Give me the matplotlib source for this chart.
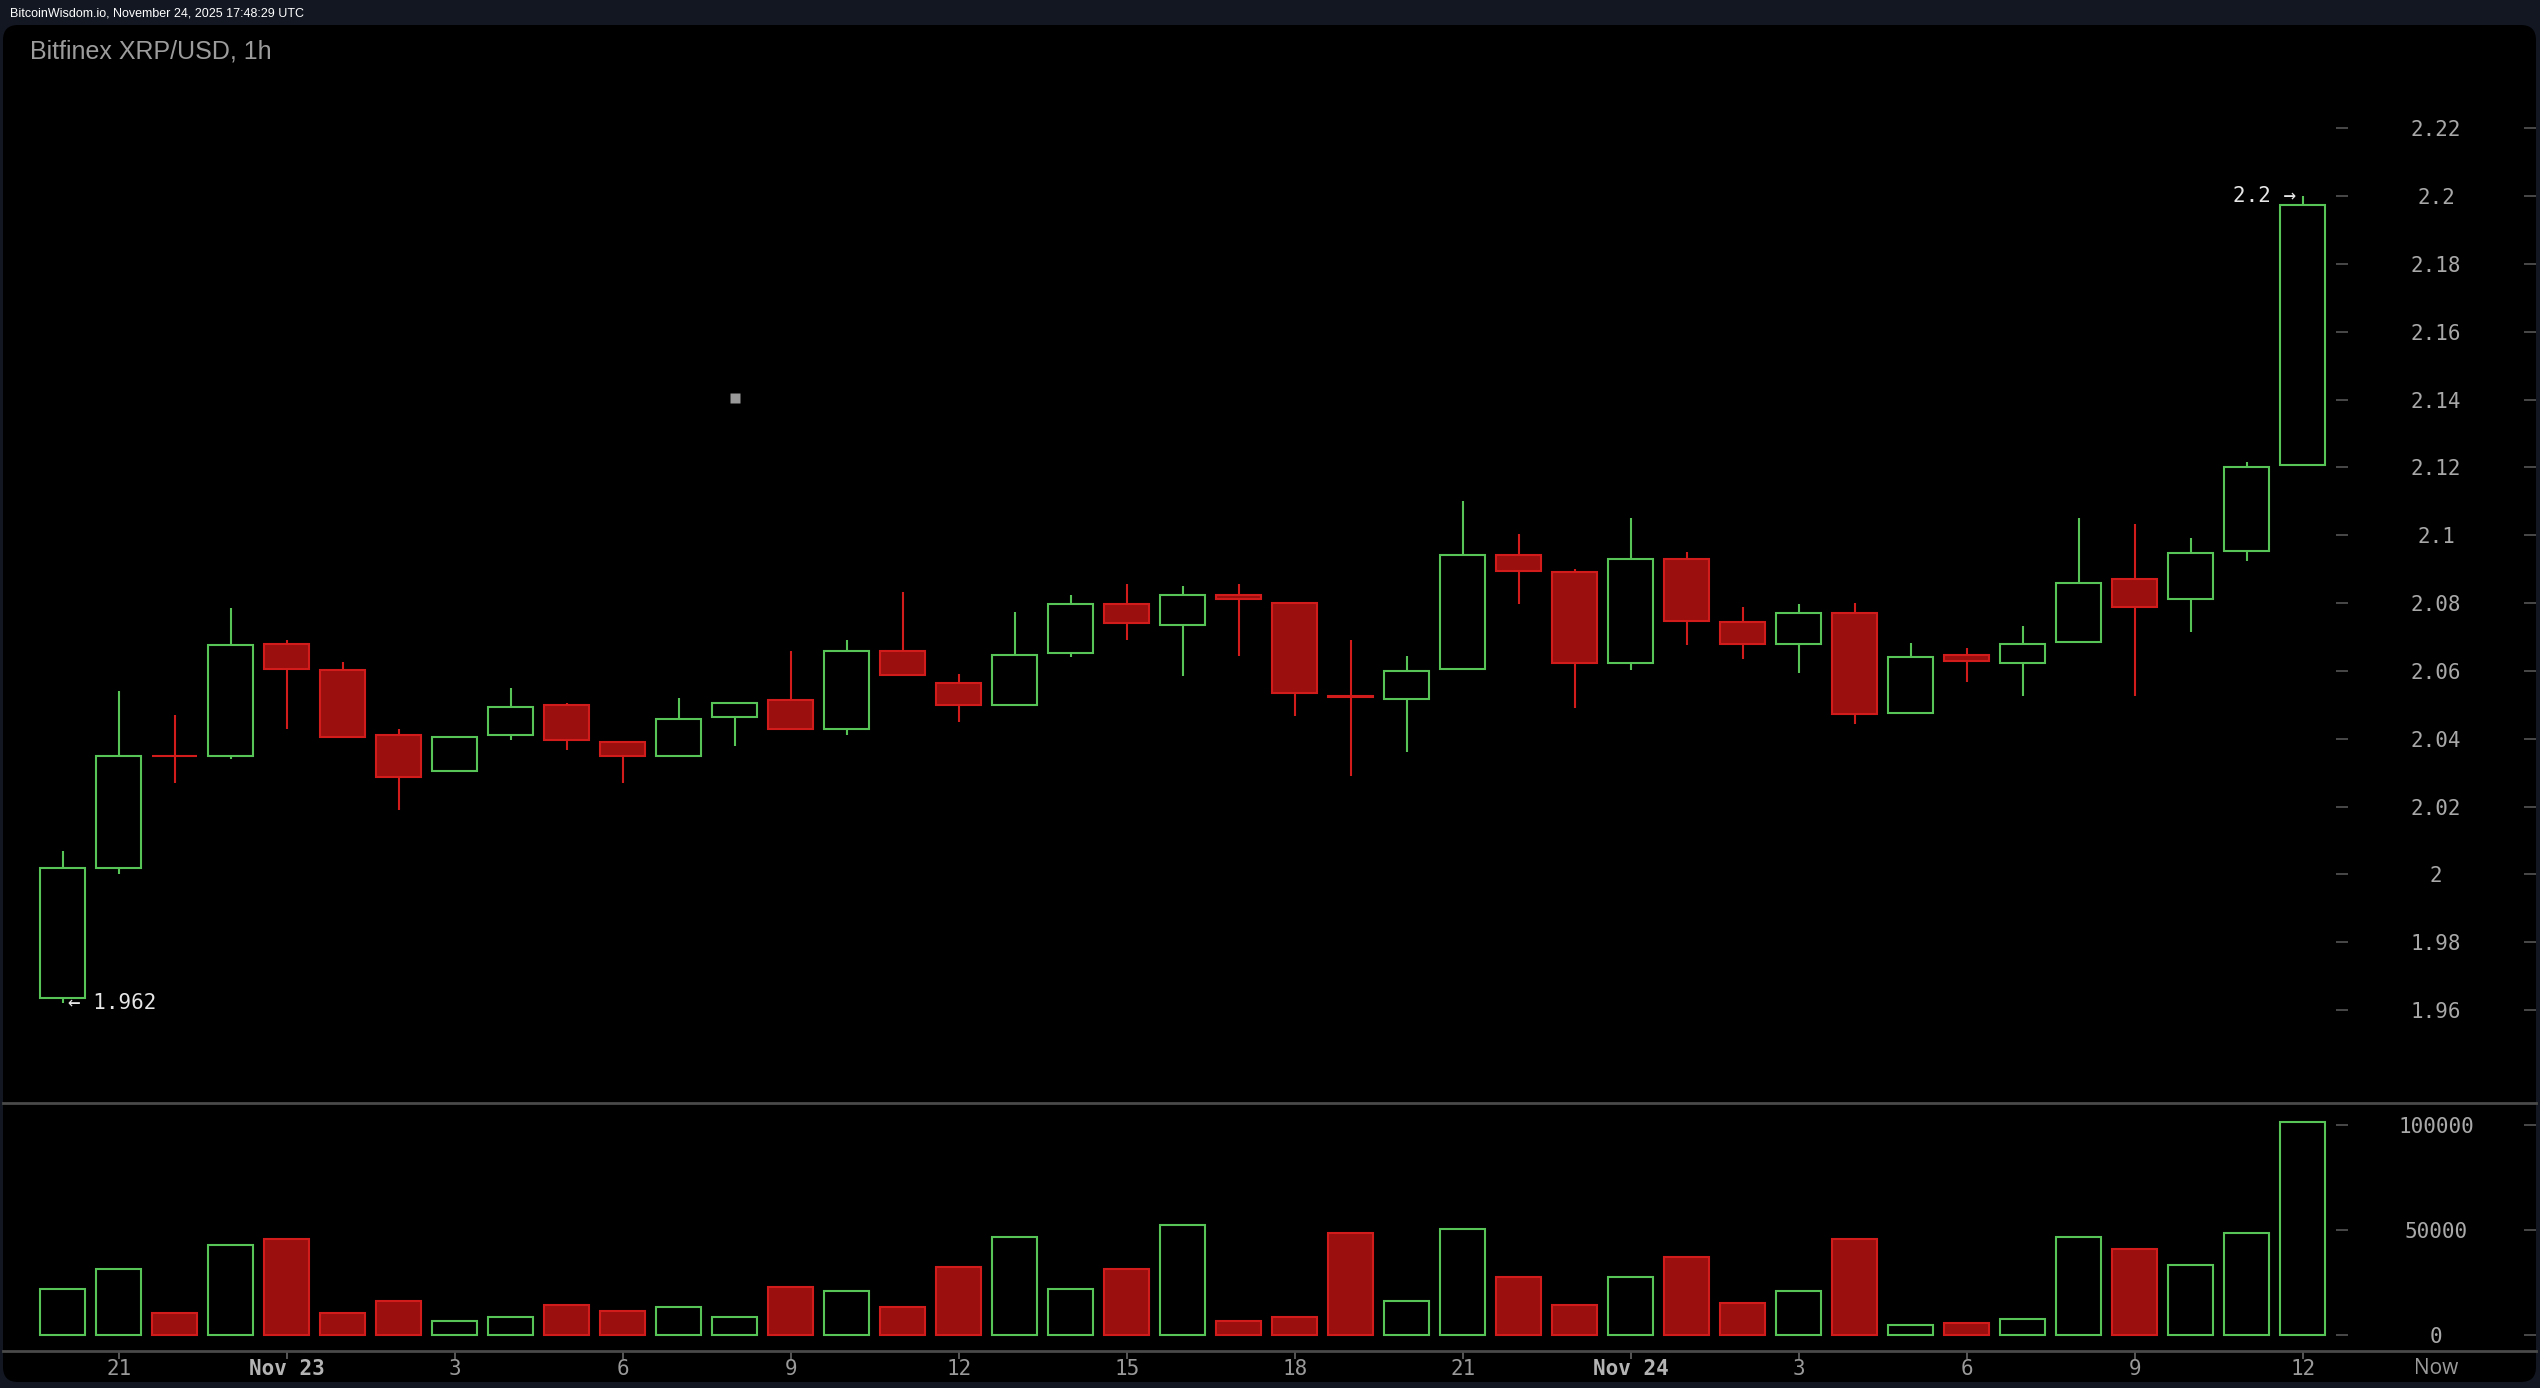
import matplotlib
matplotlib.use("Agg")
import matplotlib.pyplot as plt
from matplotlib.patches import FancyBboxPatch
import numpy as np

# hourly candles, Nov 22 20:00 -> Nov 24 12:00 UTC
opens = [1.9635, 2.002, 2.0350, 2.035, 2.068, 2.0602, 2.041, 2.0304, 2.041, 2.050,
         2.039, 2.035, 2.0463, 2.0513, 2.0428, 2.0659, 2.0565, 2.050, 2.0652, 2.0796,
         2.0735, 2.0824, 2.080, 2.0525, 2.0517, 2.0606, 2.0943, 2.0891, 2.0623, 2.093,
         2.0743, 2.0678, 2.0772, 2.0476, 2.0648, 2.0622, 2.0685, 2.0871, 2.0813, 2.0953,
         2.1208]
highs = [2.007, 2.054, 2.047, 2.0785, 2.069, 2.0625, 2.043, 2.0405, 2.055, 2.0506,
         2.039, 2.052, 2.0506, 2.066, 2.069, 2.0833, 2.059, 2.0773, 2.0825, 2.0855,
         2.085, 2.0855, 2.080, 2.069, 2.0644, 2.110, 2.1003, 2.090, 2.105, 2.095,
         2.0787, 2.0796, 2.080, 2.0682, 2.0668, 2.0733, 2.105, 2.1033, 2.0992, 2.1215,
         2.200]
lows = [1.962, 2.000, 2.027, 2.034, 2.043, 2.0404, 2.019, 2.0304, 2.0397, 2.0368,
        2.027, 2.035, 2.038, 2.0425, 2.041, 2.0587, 2.045, 2.050, 2.064, 2.0692,
        2.0586, 2.0645, 2.0468, 2.029, 2.036, 2.0603, 2.0798, 2.049, 2.0604, 2.0675,
        2.0634, 2.0593, 2.0443, 2.0476, 2.0566, 2.0527, 2.0683, 2.0527, 2.0716, 2.0925,
        2.1208]
closes = [2.002, 2.035, 2.0348, 2.0677, 2.0605, 2.0404, 2.0286, 2.0405, 2.0494, 2.0397,
          2.035, 2.0458, 2.0506, 2.0428, 2.0659, 2.0587, 2.050, 2.0648, 2.0796, 2.0741,
          2.0824, 2.0812, 2.0534, 2.0523, 2.0601, 2.0943, 2.0894, 2.0622, 2.093, 2.0746,
          2.0678, 2.0772, 2.0472, 2.0641, 2.0629, 2.0678, 2.0859, 2.0789, 2.0949, 2.120,
          2.1973]
volumes = [21800, 31400, 10600, 42700, 45600, 10600, 16200, 6800, 8700, 14400,
           11500, 13400, 8700, 22900, 21000, 13400, 32300, 46500, 21800, 31400,
           52200, 6800, 8700, 48400, 16200, 50300, 27600, 14400, 27600, 37000,
           15300, 21000, 45600, 4900, 5800, 7700, 46500, 40800, 33300, 48400,
           101500]

tick_pos = [1, 4, 7, 10, 13, 16, 19, 22, 25, 28, 31, 34, 37, 40]
tick_lbl = ["21", "Nov 23", "3", "6", "9", "12", "15", "18", "21", "Nov 24", "3", "6", "9", "12"]
price_ticks = [1.96, 1.98, 2.0, 2.02, 2.04, 2.06, 2.08, 2.1, 2.12, 2.14, 2.16, 2.18, 2.2, 2.22]
price_lbl = ["1.96", "1.98", "2", "2.02", "2.04", "2.06", "2.08", "2.1", "2.12", "2.14",
             "2.16", "2.18", "2.2", "2.22"]
vol_ticks = [0, 50000, 100000]
cursor = (12, 2.1404)

GREEN = "#56c456"
RED_EDGE = "#d21c1c"
RED_FILL = "#9b0f0f"
GRAY = "#a8a8a8"
LINE = "#4a4a4a"
MONO = "DejaVu Sans Mono"

W, H = 2540, 1388
fig = plt.figure(figsize=(W / 100, H / 100), dpi=100, facecolor="#131722")

# black panel with rounded corners
panel = FancyBboxPatch((0.03, 0.06), 25.33, 13.57, boxstyle="round,pad=0,rounding_size=0.15",
                       transform=fig.dpi_scale_trans, facecolor="black", edgecolor="none", zorder=-5)
fig.patches.append(panel)

left, right = 3 / W, 2536 / W
sep_y = 1 - 1103 / H
bot_y = 1 - 1351 / H
top_y = 1 - 25 / H
ax = fig.add_axes([left, sep_y, right - left, top_y - sep_y], facecolor="none")
axv = fig.add_axes([left, bot_y, right - left, sep_y - bot_y], facecolor="none", sharex=ax)

x = np.arange(len(opens))
o = np.array(opens); c = np.array(closes)
up = c >= o
cols = np.where(up, GREEN, RED_EDGE)

# candles
ax.vlines(x, lows, highs, colors=cols, lw=1.5, zorder=2)
body_lo = np.minimum(o, c)
body_h = np.maximum(np.abs(c - o), 0.0002)
ax.bar(x[up], body_h[up], bottom=body_lo[up], width=0.8, facecolor="black",
       edgecolor=GREEN, lw=1.5, zorder=3)
ax.bar(x[~up], body_h[~up], bottom=body_lo[~up], width=0.8, facecolor=RED_FILL,
       edgecolor=RED_EDGE, lw=1.5, zorder=3)

# volume
v = np.array(volumes)
axv.bar(x[up], v[up], width=0.8, facecolor="none", edgecolor=GREEN, lw=1.5)
axv.bar(x[~up], v[~up], width=0.8, facecolor=RED_FILL, edgecolor=RED_EDGE, lw=1.5)

# limits (matching the screen scale)
ax.set_xlim((3 - 62.8) / 56, (2536 - 62.8) / 56)
ax.set_ylim(1.93261, 2.25041)
axv.set_ylim(-7608, 110319)

# price axis
for s in ax.spines.values():
    s.set_visible(False)
ax.set_yticks(price_ticks)
ax.set_yticklabels(price_lbl)
ax.tick_params(axis="y", left=False, labelleft=False, right=True, labelright=True,
               direction="in", length=8.6, width=1.2, color="#555555",
               labelcolor=GRAY, labelsize=15, pad=-72)
ax.tick_params(axis="x", bottom=False, labelbottom=False)
for t in ax.yaxis.get_major_ticks():
    t.label2.set_horizontalalignment("center")
    t.label2.set_fontfamily(MONO)

inner = (2342 - 3) / (2536 - 3)
sec = ax.secondary_yaxis(inner)
sec.set_yticks(price_ticks)
sec.tick_params(direction="inout", length=8.6, width=1.2, color="#555555", labelright=False)
sec.spines["right"].set_visible(False)

# volume axis
for k in ("left", "right"):
    axv.spines[k].set_visible(False)
for k in ("top", "bottom"):
    axv.spines[k].set_color(LINE)
    axv.spines[k].set_linewidth(2)
axv.set_yticks(vol_ticks)
axv.set_yticklabels([str(t) for t in vol_ticks])
axv.tick_params(axis="y", left=False, labelleft=False, right=True, labelright=True,
                direction="in", length=8.6, width=1.2, color="#555555",
                labelcolor=GRAY, labelsize=15, pad=-72)
for t in axv.yaxis.get_major_ticks():
    t.label2.set_horizontalalignment("center")
    t.label2.set_fontfamily(MONO)
secv = axv.secondary_yaxis(inner)
secv.set_yticks(vol_ticks)
secv.tick_params(direction="inout", length=8.6, width=1.2, color="#555555", labelright=False)
secv.spines["right"].set_visible(False)

axv.set_xticks(tick_pos)
axv.set_xticklabels(tick_lbl)
axv.tick_params(axis="x", direction="out", length=5.5, width=1.2, color="#666666",
                labelcolor="#9a9a9a", labelsize=15, pad=0)
for lbl in axv.get_xticklabels():
    lbl.set_fontfamily(MONO)
    if lbl.get_text().startswith("Nov"):
        lbl.set_fontweight("bold")
        lbl.set_color("#b4b4b4")

# annotations
lo_i = int(np.argmin(lows))
hi_i = int(np.argmax(highs))
ax.annotate("\u2190 %.3f" % lows[lo_i], (lo_i, lows[lo_i]), xytext=(4, 0),
            textcoords="offset points", ha="left", va="center", color="#e6e6e6",
            fontsize=15, family=MONO)
ax.annotate("%.1f \u2192" % highs[hi_i], (hi_i, highs[hi_i]), xytext=(-5, 0),
            textcoords="offset points", ha="right", va="center", color="#e6e6e6",
            fontsize=15, family=MONO)
ax.plot(*cursor, marker="s", ms=7, color="#9a9a9a", mec="none")

# texts
fig.text(10 / W, 1 - 14 / H, "BitcoinWisdom.io, November 24, 2025 17:48:29 UTC",
         color="white", fontsize=9, family=["Liberation Sans Narrow", "Liberation Sans"],
         va="center", ha="left")
fig.text(30 / W, 1 - 52 / H, "Bitfinex XRP/USD, 1h", color="#9c9c9c", fontsize=18,
         family="Liberation Sans", va="center", ha="left")
fig.text(2436 / W, 1 - 1368 / H, "Now", color="#9a9a9a", fontsize=15,
         family="Open Sans", va="center", ha="center")

fig.savefig("out.png", dpi=100, facecolor=fig.get_facecolor())
